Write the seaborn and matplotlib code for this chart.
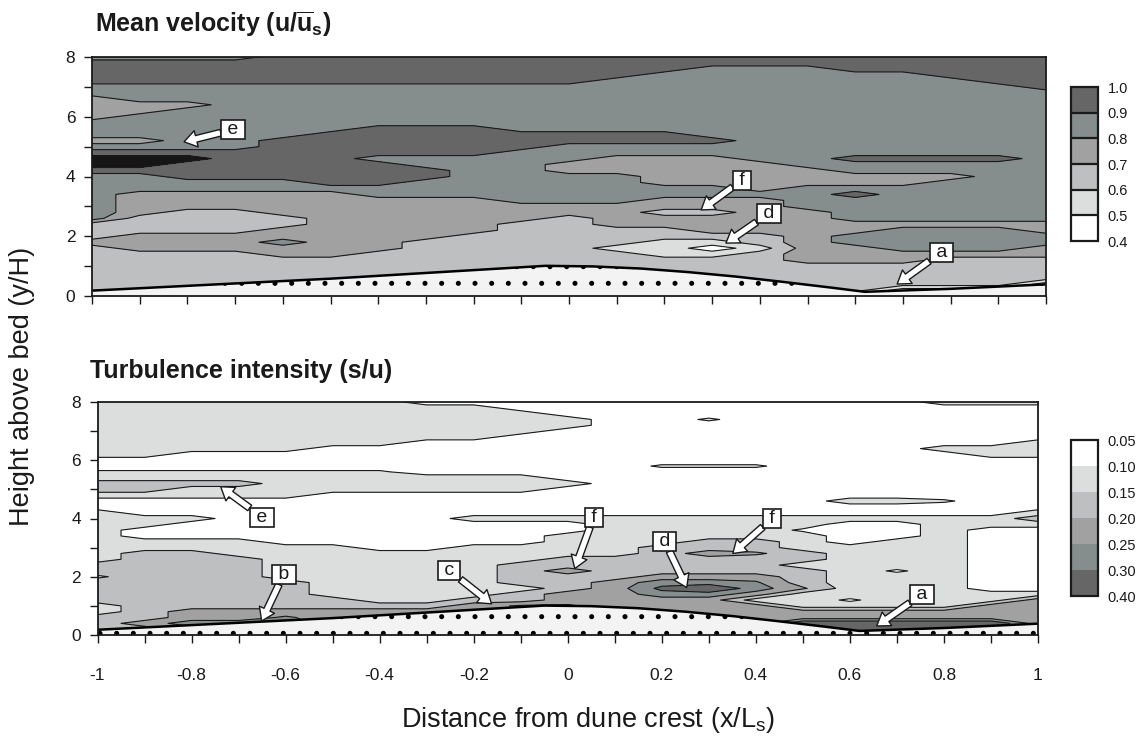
import numpy as np
import matplotlib
matplotlib.use("Agg")
import matplotlib.pyplot as plt
from matplotlib.colors import ListedColormap, BoundaryNorm
from matplotlib.cm import ScalarMappable
import seaborn as sns

sns.set_style("white")
plt.rcParams["font.family"] = ["Liberation Sans", "DejaVu Sans"]
plt.rcParams["mathtext.fontset"] = "custom"
plt.rcParams["mathtext.rm"] = "Liberation Sans"
plt.rcParams["mathtext.it"] = "Liberation Sans:italic"
plt.rcParams["mathtext.bf"] = "Liberation Sans:bold"
plt.rcParams["axes.unicode_minus"] = False
plt.rcParams["hatch.linewidth"] = 1.2

# ---------------- data ----------------
grid_x = [-1.0, -0.9, -0.8, -0.7, -0.6, -0.5, -0.4, -0.3, -0.2, -0.1, 0.0,
          0.1, 0.2, 0.3, 0.4, 0.5, 0.6, 0.7, 0.8, 0.9, 1.0]
grid_y = np.round(np.linspace(0.0, 8.0, 41), 1)

velocity_levels = [0.4, 0.5, 0.6, 0.7, 0.8, 0.9, 1.0, 1.1]
velocity_colors = ["#ffffff", "#dcdddd", "#bdbfc1", "#a1a1a1", "#858d8d", "#666666", "#161616"]
turbulence_levels = [0.05, 0.10, 0.15, 0.20, 0.25, 0.30, 0.40]
turbulence_colors = ["#ffffff", "#dcdddd", "#bdbfc1", "#a1a1a1", "#858d8d", "#666666"]

# class of each contour band along every x column, "class@top-of-run" read top-down
# (a = just inside the lower edge of the band, b = just inside the upper edge)
velocity_columns = [
    "4@8.0 5@7.8 4@7.0 3@6.6 4@5.8 3@5.2 4@5.0 5@4.8 6@4.6 5@4.2 4@4.0 2@2.4 3@1.8 2@1.6",
    "4@8.0 5@7.8 4@7.0 3@6.4 4@6.0 3@5.2 4@5.0 5@4.8 6@4.6 5@4.2 4@4.0 3@3.4 2@2.6 3@2.0 2@1.4",
    "4@8.0 5@7.8 4@7.0 3@6.4 4@6.2 5@4.8 6@4.6 5@4.4 4@3.8 3@3.4 2@2.8 3@2.0 2@1.4",
    "4@8.0 5@7.8 4@7.0 5@4.8 4@3.8 3@3.4 2@2.8 3@2.0 2@1.4",
    "5@8.0 4@7.0 5@5.2 4@3.8 3@3.4 2@2.6 3@2.2 4@1.8 3@1.6 2@1.2",
    "5@8.0 4@7.0 5@5.4 4@3.6 3@3.4 2@1.2",
    "5@8.0 4@7.0 5@5.6 4@4.6 5@4.4 4@3.6 3@3.2 2@1.4",
    "5@8.0 4@7.0 5@5.6 4@4.6 5@4.2 4@3.8 3@3.2 2@1.8",
    "5@8.0 4@7.0 5@5.6 4@4.6 3@3.2 2@2.0",
    "5@8.0 4@7.0 5@5.4 4@4.8 3@3.0 2@2.4",
    "5@8.0 4@7.0 5@5.4 4@5.0 3@4.4 4@4.0 3@3.0 2@2.6",
    "5@8.0 4@7.2 5@5.4 4@5.0 3@4.6 4@4.0 3@3.0 2@2.2 1@1.6 2@1.4",
    "5@8.0 4@7.4 5@5.4 4@5.0 3@4.6 4@3.6 3@3.2 2@2.8 3@2.6 2@2.2 1@1.8 2@1.2",
    "5@8.0 4@7.6 5@5.2 4@5.0 3@4.6 4@3.6 3@3.2 2@2.8 3@2.6 2@2.0 1@1.8 0@1.6 1@1.4 2@1.2",
    "5@8.0 4@7.6 3@4.4 4@3.4 3@3.2 2@2.0 1@1.6 2@1.4",
    "5@8.0 4@7.6 3@4.2 4@3.6 3@2.8 2@1.0",
    "5@8.0 4@7.4 5@4.6 4@4.4 3@4.0 4@3.6 5@3.4 4@3.2 3@2.4 4@2.0 3@1.6 2@1.0 0@0.0",
    "5@8.0 4@7.4 5@4.6 4@4.4 3@4.0 4@3.6 3@2.4 4@2.2 3@1.4 2@1.0 0@0.2",
    "5@8.0 4@7.2 5@4.6 4@4.4 3@4.0 4@3.8 3@2.4 4@2.2 3@1.4 2@1.2 0@0.2",
    "5@8.0 4@7.0 5@4.6 4@4.4 3@2.4 4@2.2 3@1.4 2@1.2 0@0.2",
    "5@8.0 4@6.8 3@2.4 4@2.0 3@1.6 2@1.2 0@0.4",
]

turbulence_columns = [
    "1@8.0 0@6.0 1a@5.6 1@5.4 2@5.2 1@4.8 0@4.6 1@4.2 2@2.4 1b@2.0 2@1.8 1@1.0 2@0.6",
    "1@8.0 0@6.0 1a@5.6 1@5.4 2@5.2 1@4.8 0@4.6 1@4.0 0@3.6 1@3.2 2@2.8 3@0.4 2@0.2",
    "1@8.0 0@6.2 1a@5.6 1@5.4 2@5.2 1@5.0 0@4.6 1@4.0 0@3.8 1@3.2 2@2.8 3@0.8 4@0.4 3@0.2",
    "1@8.0 0@6.2 1a@5.6 1@5.4 2@5.2 1@5.0 0@4.6 1@3.2 2@2.6 3@0.8 4@0.4 3@0.2",
    "1@8.0 0@6.2 1a@5.6 1@5.4 0@4.6 1@3.0 2@1.8 3@0.8 4a@0.6 4@0.4 3@0.2",
    "1@8.0 0@6.4 1a@5.6 1@5.4 0@4.8 1@3.0 2@1.2 3@0.8",
    "1@8.0 0@6.4 1a@5.6 1@5.4 0@4.8 1@2.8 2@1.0 3@0.8",
    "0@8.0 1@7.8 0@6.6 1@5.4 0@4.8 1@2.8 2@1.0 3@0.8",
    "0@8.0 1@7.8 0@6.6 1@5.4 0@4.8 1@4.0 0@3.8 1@3.0 2@1.2 3@1.0",
    "0@8.0 1@7.6 0@6.8 1@5.4 0@4.8 1@4.0 0@3.8 1@3.0 2@2.4 1@1.6 2@1.4 4a@1.0",
    "0@8.0 1@7.4 0@7.0 1@5.2 0@5.0 1@4.0 0@3.8 1@3.4 2@2.6 3@2.2 2@2.0 3@1.4 4a@1.0",
    "0@8.0 1@4.0 2@2.6 3@1.8",
    "0@8.0 1a@5.8 0@5.6 1@4.0 2@3.0 3@2.0 4@1.8 5a@1.6 4@1.4 3@1.2",
    "0@8.0 1a@7.4 0@7.2 1a@5.8 0@5.6 1@4.0 2@3.2 3@2.8 2@2.6 3@2.0 4@1.8 5@1.6 4@1.4 3@1.2",
    "0@8.0 1a@5.8 0@5.6 1@4.0 2@3.2 3a@2.8 2@2.6 3@2.0 4a@1.8 4@1.6 3@1.4 1@1.2 3@1.0",
    "0@8.0 1@4.0 0b@3.6 1@3.4 2@2.8 1@2.4 2@2.2 3a@1.6 1@1.4 3@0.8 5@0.4",
    "0@8.0 1@4.6 0@4.4 1@4.0 0@3.8 1@3.0 0b@1.2 1@1.0 3@0.8 5@0.4",
    "0@8.0 1@4.6 0@4.4 1@4.0 0@3.8 1@3.2 0b@2.2 1@2.0 3@0.8 5@0.4",
    "1@8.0 0@7.8 1@6.4 0@6.2 1a@4.6 0@4.4 1@4.0 3@0.8 5@0.4",
    "1@8.0 0@7.8 1@6.4 0@6.0 1@4.0 0@3.6 1@1.4 3@1.0 5@0.4",
    "1@8.0 0@7.8 1@6.6 0@6.0 1@4.2 2@4.0 1@3.8 0@3.6 1@1.4 3@1.2",
]

# dune bed profile
bed_x = [-1.0, -0.5, -0.05, 0.05, 0.15, 0.25, 0.35, 0.45, 0.55, 0.62, 0.8, 1.0]
bed_y = [0.18, 0.58, 1.01, 0.99, 0.92, 0.8, 0.65, 0.47, 0.28, 0.14, 0.24, 0.39]

x_major = [-1.0, -0.8, -0.6, -0.4, -0.2, 0.0, 0.2, 0.4, 0.6, 0.8, 1.0]
x_major_labels = ["-1", "-0.8", "-0.6", "-0.4", "-0.2", "0", "0.2", "0.4", "0.6", "0.8", "1"]
x_minor = [-0.9, -0.7, -0.5, -0.3, -0.1, 0.1, 0.3, 0.5, 0.7, 0.9]
y_major = [0, 2, 4, 6, 8]
y_minor = [1, 3, 5, 7]

# annotation labels: (text, tip x, tip y, box x, box y)
velocity_notes = [
    ("e", -0.807, 5.16, -0.704, 5.57),
    ("f", 0.277, 2.88, 0.363, 3.88),
    ("d", 0.329, 1.77, 0.419, 2.76),
    ("a", 0.688, 0.40, 0.781, 1.47),
]
turbulence_notes = [
    ("e", -0.738, 5.09, -0.650, 4.05),
    ("b", -0.651, 0.48, -0.604, 2.08),
    ("c", -0.162, 1.07, -0.253, 2.23),
    ("f", 0.015, 2.28, 0.055, 4.05),
    ("d", 0.253, 1.63, 0.206, 3.22),
    ("f", 0.351, 2.80, 0.435, 4.00),
    ("a", 0.657, 0.31, 0.754, 1.40),
]


def build_grid(columns, levels):
    grid = np.empty((len(grid_y), len(columns)))
    for j, spec in enumerate(columns):
        segments = []
        for token in spec.split():
            code, top = token.split("@")
            k = int(code[0])
            frac = {"": 0.5, "a": 0.15, "b": 0.85}[code[1:]]
            segments.append((float(top), levels[k] + frac * (levels[k + 1] - levels[k])))
        for i, y in enumerate(grid_y):
            value = segments[0][1]
            for top, v in segments:
                if y <= top + 1e-6:
                    value = v
            grid[i, j] = value
    return grid


W, H = 1142, 748
fig = plt.figure(figsize=(W / 100, H / 100), dpi=100)
ax_top = fig.add_axes([92 / W, 1 - 296 / H, 954 / W, 239 / H])
ax_bot = fig.add_axes([97.5 / W, 1 - 635 / H, 940.5 / W, 233 / H])
cax_top = fig.add_axes([1071 / W, 1 - 241 / H, 27 / W, 154 / H])
cax_bot = fig.add_axes([1071 / W, 1 - 596 / H, 27 / W, 156 / H])

INK = "#1a1a1a"


def draw_panel(ax, columns, levels, colors, notes, show_xlabels):
    grid = build_grid(columns, levels)
    X, Y = np.meshgrid(grid_x, grid_y)
    ax.contourf(X, Y, grid, levels=levels, colors=colors, zorder=1)
    ax.contour(X, Y, grid, levels=levels, colors=INK, linewidths=0.8, zorder=2)
    ax.fill_between(bed_x, 0, bed_y, facecolor="#f3f3f3", edgecolor="black",
                    hatch=".", linewidth=0, zorder=3)
    sns.lineplot(x=bed_x, y=bed_y, ax=ax, color="black", linewidth=1.8,
                 zorder=4, legend=False, sort=False)
    ax.set_xlim(-1, 1)
    ax.set_ylim(0, 8)
    ax.set_xlabel("")
    ax.set_ylabel("")
    ax.set_xticks(x_major)
    ax.set_xticks(x_minor, minor=True)
    ax.set_yticks(y_major)
    ax.set_yticks(y_minor, minor=True)
    if show_xlabels:
        ax.set_xticklabels(x_major_labels)
    else:
        ax.set_xticklabels([])
    ax.tick_params(axis="both", which="both", direction="out", length=6, width=1,
                   color=INK, labelcolor=INK, labelsize=12.5, left=True, bottom=True)
    ax.tick_params(axis="x", which="major", pad=18)
    ax.tick_params(axis="y", which="major", pad=6)
    for sp in ax.spines.values():
        sp.set_visible(True)
        sp.set_linewidth(1.3)
        sp.set_color(INK)
        sp.set_zorder(6)
    for text, tx, ty, bx, by in notes:
        ax.annotate(f" {text} ", xy=(tx, ty), xytext=(bx, by), ha="center", va="center",
                    fontsize=14, color=INK, zorder=8,
                    bbox=dict(boxstyle="square,pad=0.05", fc="white", ec=INK, lw=1.2),
                    arrowprops=dict(arrowstyle="simple,head_length=0.6,head_width=0.8,tail_width=0.32",
                                    fc="white", ec=INK, lw=1.0, mutation_scale=15,
                                    shrinkA=0, shrinkB=0))


def draw_key(cax, levels, colors, fmt, invert):
    bounds = levels
    sm = ScalarMappable(norm=BoundaryNorm(bounds, len(colors)), cmap=ListedColormap(colors))
    cb = fig.colorbar(sm, cax=cax, ticks=bounds, drawedges=True, spacing="uniform")
    cb.set_ticklabels([fmt.format(b) for b in bounds])
    cb.outline.set_linewidth(1.6)
    cb.outline.set_edgecolor(INK)
    cb.dividers.set_linewidth(1.6)
    cb.dividers.set_color(INK)
    cax.tick_params(length=0, pad=7, labelsize=10.5, labelcolor=INK)
    if invert:
        cax.invert_yaxis()


draw_panel(ax_top, velocity_columns, velocity_levels, velocity_colors, velocity_notes, False)
draw_panel(ax_bot, turbulence_columns, turbulence_levels, turbulence_colors, turbulence_notes, True)

draw_key(cax_top, velocity_levels[:7], velocity_colors[:6], "{:.1f}", False)
draw_key(cax_bot, turbulence_levels, turbulence_colors, "{:.2f}", True)

fig.text(95 / W, 1 - 31.7 / H, r"Mean velocity (u/$\overline{\mathbf{u}}_{\mathbf{s}}$)",
         fontsize=18, fontweight="bold", color=INK, ha="left", va="baseline")
fig.text(90 / W, 1 - 378 / H, "Turbulence intensity (s/u)",
         fontsize=18, fontweight="bold", color=INK, ha="left", va="baseline")
fig.text(22 / W, 1 - 386 / H, "Height above bed (y/H)", rotation=90,
         fontsize=19.5, color=INK, ha="center", va="center")
fig.text(588 / W, 1 - 720 / H, r"Distance from dune crest (x/L$_{\mathregular{s}}$)",
         fontsize=19.5, color=INK, ha="center", va="center")

fig.savefig("out.png", dpi=100)
